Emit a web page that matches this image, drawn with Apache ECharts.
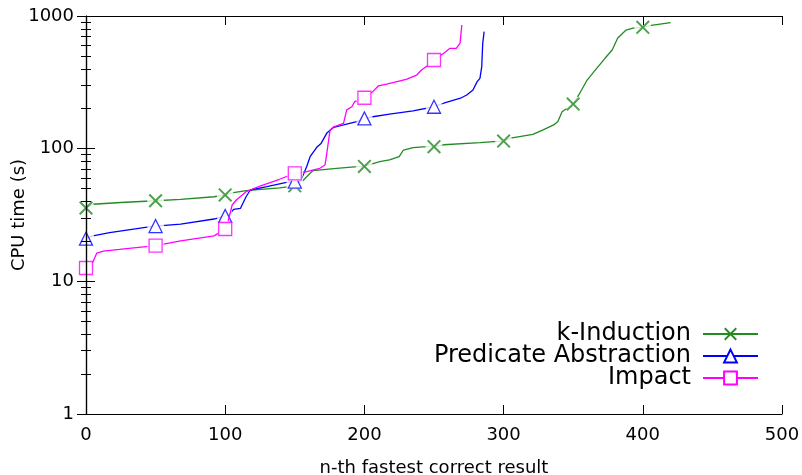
<!DOCTYPE html>
<html><head><meta charset="utf-8">
<script src="https://cdn.jsdelivr.net/npm/echarts@6/dist/echarts.min.js"></script>
<style>html,body{margin:0;padding:0;background:#fff}#c{width:802px;height:475px}</style>
</head><body><div id="c"></div>
<script>
const seriesNames = ['k-Induction', 'Predicate Abstraction', 'Impact'];

const kInduction = [
  [0,35.7],[5,38.1],[25,39.3],[50,40.5],[68,41.5],[92,43.4],[100,44.8],[106,46.6],[115,48.2],
  [139,50.6],[150,52.5],[154,54.8],[161,65.2],[163,68.2],[180,71],[195,73.1],[200,73.5],
  [205,76.6],[211,79.8],[218,82.2],[225,87],[228,97.7],[235,102],[242,103],[250,103.5],
  [257,107],[283,111],[293,113],[300,114],[305,120],[321,128],[328,138],[336,151],[339,160],
  [342,190],[350,217],[354,254],[360,329],[367,405],[373,482],[378,554],[382,682],[388,784],
  [393,811],[400,822],[406,850],[420,891]
];
const predicateAbstraction = [
  [0,21.0],[5,22.0],[17,23.3],[44,25.6],[50,26.1],[68,27.0],[92,29.5],[100,31.1],[103,31.7],
  [106,34.9],[111,35.5],[115,43.4],[118,48.8],[130,51.7],[144,55.8],[150,56.5],[154,57.0],
  [156,63.3],[158.5,73.1],[161,87],[166,103],[169,110],[173,131],[178,145],[185,151],
  [194.5,160],[200,169],[206,174],[218,182],[235,193],[250,207],[257,220],[269,240],
  [273.5,254],[278,277],[281,320],[283,339],[284.3,415],[285,622],[286,762]
];
const impact = [
  [0,12.6],[4,13.3],[7.7,16.3],[12.5,16.9],[24,17.4],[50,18.6],[68,20.2],[92,22.0],[100,24.8],
  [102,28.1],[105,37.6],[108,41],[115,47.4],[125,52.3],[139,58.8],[150,65.2],[158.5,67],
  [168,71.1],[171.7,75.3],[173,92.3],[175.3,138],[178,146],[185,155],[187.3,196],[191,207],
  [193,226],[200,242],[206,269],[210,297],[216,307],[230,333],[237.6,359],[241,392],[245,420],
  [250,466],[257,524],[261.5,571],[266,571],[268.7,622],[270,855]
];

const xTicks = [0, 100, 200, 300, 400, 500];
const yTicks = [1, 10, 100, 1000];
const yMinorTicks = [2,3,4,5,6,7,8,9,20,30,40,50,60,70,80,90,200,300,400,500,600,700,800,900];
const markerEvery = 50;

const colors = ['#228b22', '#0000ff', '#ff00ff'];
const crossPath = 'path://M0,1.4L1.4,0L14,12.6L12.6,14ZM12.6,0L14,1.4L1.4,14L0,12.6Z';
const symbols = [crossPath, 'triangle', 'rect'];
const legendSymbols = [crossPath, 'emptyTriangle', 'emptyRect'];
const FONT = 'DejaVu Sans';

const datasets = [kInduction, predicateAbstraction, impact];
const series = [];
datasets.forEach((d, i) => {
  const base = 2 + i * 3;
  const marks = d.filter(p => p[0] % markerEvery === 0);
  series.push({
    type: 'line', name: seriesNames[i], data: d, xAxisIndex: 0, yAxisIndex: 0,
    symbol: legendSymbols[i], showSymbol: false, symbolSize: 13,
    lineStyle: { color: colors[i], width: 1.3 }, itemStyle: { color: colors[i] },
    z: base, silent: true, animation: false
  });
  series.push({
    type: 'scatter', data: marks, xAxisIndex: 0, yAxisIndex: 0,
    symbol: 'circle', symbolSize: 17, itemStyle: { color: '#fff' },
    z: base + 1, silent: true, animation: false
  });
  series.push({
    type: 'scatter', data: marks, xAxisIndex: 0, yAxisIndex: 0,
    symbol: symbols[i], symbolSize: i === 0 ? 14 : 13,
    itemStyle: i === 0 ? { color: colors[i] } : { color: '#fff', borderColor: colors[i], borderWidth: 1.3 },
    z: base + 2, silent: true, animation: false
  });
});

const gridRect = { left: 86, right: 20, top: 16, bottom: 61, containLabel: false, outerBoundsMode: 'none' };
const axisLineStyle = { color: '#000', width: 1.2 };
const labelStyle = { fontFamily: FONT, fontSize: 18, color: '#000' };
const plainNum = v => String(v);

function minorAxis(gridIndex, position) {
  return { type: 'log', logBase: 10, gridIndex: gridIndex, position: position, min: 1, max: 1000,
    axisLine: { show: false },
    axisTick: { show: true, inside: true, length: 5, lineStyle: { color: '#000' }, customValues: yMinorTicks },
    axisLabel: { show: false }, splitLine: { show: false }, z: 20 };
}

const option = {
  backgroundColor: '#fff',
  animation: false,
  grid: [Object.assign({}, gridRect), Object.assign({}, gridRect), Object.assign({}, gridRect)],
  legend: seriesNames.map((n, i) => ({
    data: [n], right: 38, top: 317 + i * 22, align: 'right',
    itemWidth: 55, itemHeight: 16, selectedMode: false, z: 30,
    textStyle: { fontFamily: FONT, fontSize: 24, color: '#000', padding: [0, 7, 0, 0] }
  })),
  xAxis: [
    { type: 'value', gridIndex: 0, position: 'bottom', min: 0, max: 500, interval: 100,
      name: 'n-th fastest correct result', nameLocation: 'middle', nameGap: 45, nameMoveOverlap: false,
      nameTextStyle: { fontFamily: FONT, fontSize: 18, color: '#000' },
      axisLine: { show: true, lineStyle: axisLineStyle },
      axisTick: { show: true, inside: true, length: 9, lineStyle: { color: '#000' } },
      axisLabel: Object.assign({ margin: 12, customValues: xTicks, formatter: plainNum }, labelStyle),
      splitLine: { show: false }, z: 20 },
    { type: 'value', gridIndex: 0, position: 'top', min: 0, max: 500, interval: 100,
      axisLine: { show: true, lineStyle: axisLineStyle },
      axisTick: { show: true, inside: true, length: 9, lineStyle: { color: '#000' } },
      axisLabel: { show: false }, splitLine: { show: false }, z: 20 },
    { type: 'value', gridIndex: 1, min: 0, max: 500, show: false },
    { type: 'value', gridIndex: 2, min: 0, max: 500, show: false }
  ],
  yAxis: [
    { type: 'log', logBase: 10, gridIndex: 0, position: 'left', min: 1, max: 1000,
      name: 'CPU time (s)', nameLocation: 'middle', nameGap: 58, nameRotate: 90, nameMoveOverlap: false,
      nameTextStyle: { fontFamily: FONT, fontSize: 18, color: '#000' },
      axisLine: { show: true, lineStyle: axisLineStyle },
      axisTick: { show: true, inside: true, length: 9, lineStyle: { color: '#000' }, customValues: yTicks },
      axisLabel: Object.assign({ margin: 12, customValues: yTicks, formatter: plainNum }, labelStyle),
      splitLine: { show: false }, minorTick: { show: false }, z: 20 },
    { type: 'log', logBase: 10, gridIndex: 0, position: 'right', min: 1, max: 1000,
      axisLine: { show: true, lineStyle: axisLineStyle },
      axisTick: { show: true, inside: true, length: 9, lineStyle: { color: '#000' }, customValues: yTicks },
      axisLabel: { show: false }, splitLine: { show: false }, z: 20 },
    minorAxis(1, 'left'),
    minorAxis(2, 'right')
  ],
  series: series
};

const chart = echarts.init(document.getElementById('c'), null, { renderer: 'canvas' });
chart.setOption(option);
</script>
</body></html>
